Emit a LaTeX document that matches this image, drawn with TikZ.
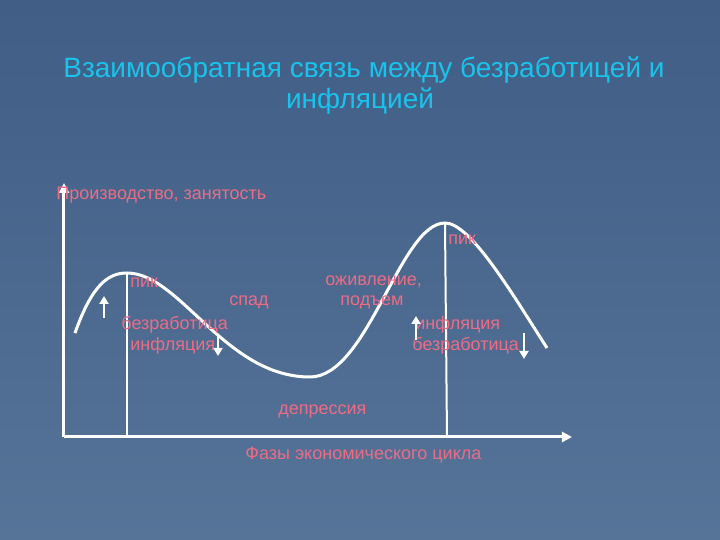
\documentclass[tikz,border=0pt]{standalone}
\usepackage{fontspec}
\setmainfont{Liberation Sans}
\usetikzlibrary{arrows.meta}
\definecolor{bgtop}{RGB}{64,94,134}
\definecolor{bgbot}{RGB}{86,116,152}
\definecolor{titlecol}{RGB}{25,195,235}
\definecolor{lblcol}{RGB}{236,108,134}
\tikzset{
  lbl/.style={text=lblcol, font=\fontsize{9pt}{10pt}\selectfont, inner sep=0pt, anchor=west},
  ttl/.style={text=titlecol, font=\fontsize{14pt}{16pt}\selectfont, inner sep=0pt},
  axis/.style={white, line width=1.5pt, -{Triangle[width=5pt,length=5pt]}},
  curve/.style={white, line width=1.5pt},
  vline/.style={white, line width=1pt},
  smallarrow/.style={white, line width=1.4pt, -{Triangle[width=4.5pt,length=4pt]}}
}
\begin{document}
\begin{tikzpicture}[x=0.5pt,y=-0.5pt]
\useasboundingbox (0,0) rectangle (720,540);
\shade[top color=bgtop, bottom color=bgbot] (0,0) rectangle (720,540);
% title
\node[ttl] (t1) at (364,70) {Взаимообратная связь между безработицей и};
\node[ttl] (t2) at (360,101) {инфляцией};
% axes
\coordinate (o) at (64,437);
\coordinate (ytop) at (64,183);
\coordinate (xend) at (572,437);
\draw[axis] (o) -- (ytop);
\draw[axis] (o) -- (xend);
% curve
\coordinate (c0) at (75,333);
\coordinate (p1) at (127,273);
\coordinate (tr) at (310,377);
\coordinate (p2) at (445,223);
\coordinate (c4) at (547,348);
\draw[curve] (c0) .. controls (92,285) and (108,273) .. (p1)
  .. controls (180,273) and (225,377) .. (tr)
  .. controls (368,377) and (400,223) .. (p2)
  .. controls (470,223) and (510,290) .. (c4);
% verticals
\coordinate (b1) at (127,437);
\coordinate (b2) at (447,437);
\draw[vline] (p1) -- (b1);
\draw[vline] (p2) -- (b2);
% labels
\node[lbl] (ylab) at (56,195) {Производство, занятость};
\node[lbl] (pik1) at (130,283) {пик};
\node[lbl] (spad) at (229,302) {спад};
\node[lbl] (bez1) at (121,325) {безработица};
\node[lbl] (inf1) at (130,346) {инфляция};
\node[lbl] (pik2) at (448,240) {пик};
\node[lbl] (ozh) at (325,282) {оживление,};
\node[lbl] (pod) at (340,302) {подъем};
\node[lbl] (inf2) at (415,325) {инфляция};
\node[lbl] (bez2) at (412,346) {безработица};
\node[lbl] (dep) at (278,412) {депрессия};
\node[lbl] (xlab) at (245,455) {Фазы экономического цикла};
% small arrows
\coordinate (a1s) at (104,318); \coordinate (a1e) at (104,296);
\coordinate (a2s) at (218,335); \coordinate (a2e) at (218,356);
\coordinate (a3s) at (416,340); \coordinate (a3e) at (416,316);
\coordinate (a4s) at (524,333); \coordinate (a4e) at (524,359);
\draw[smallarrow] (a1s) -- (a1e);
\draw[smallarrow] (a2s) -- (a2e);
\draw[smallarrow] (a3s) -- (a3e);
\draw[smallarrow] (a4s) -- (a4e);
\end{tikzpicture}
\end{document}
